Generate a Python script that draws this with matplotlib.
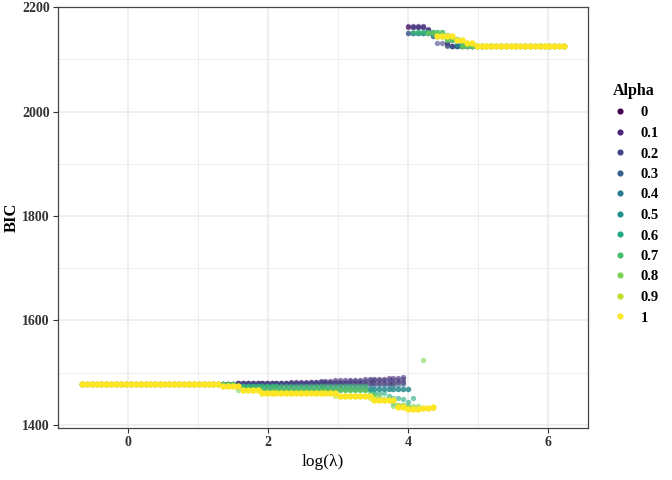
import matplotlib
matplotlib.use("Agg")
import matplotlib.pyplot as plt
from matplotlib.lines import Line2D
from matplotlib.ticker import MultipleLocator

plt.rcParams["font.family"] = ["Liberation Serif", "DejaVu Serif"]

# shared log(lambda) grid (100 values)
LOG_LAMBDA = [
    -0.66, -0.59, -0.52, -0.45, -0.38, -0.31, -0.24, -0.17, -0.10, -0.03,
    0.04, 0.11, 0.18, 0.25, 0.31, 0.38, 0.45, 0.52, 0.59, 0.66,
    0.73, 0.80, 0.87, 0.94, 1.01, 1.08, 1.15, 1.22, 1.29, 1.36,
    1.43, 1.50, 1.57, 1.64, 1.71, 1.78, 1.85, 1.92, 1.99, 2.05,
    2.12, 2.19, 2.26, 2.33, 2.40, 2.47, 2.54, 2.61, 2.68, 2.75,
    2.82, 2.89, 2.96, 3.03, 3.10, 3.17, 3.24, 3.31, 3.38, 3.45,
    3.52, 3.59, 3.66, 3.73, 3.79, 3.86, 3.93, 4.00, 4.07, 4.14,
    4.21, 4.28, 4.35, 4.42, 4.49, 4.56, 4.63, 4.70, 4.77, 4.84,
    4.91, 4.98, 5.05, 5.12, 5.19, 5.26, 5.33, 5.40, 5.47, 5.53,
    5.60, 5.67, 5.74, 5.81, 5.88, 5.95, 6.02, 6.09, 6.16, 6.23,
]

ALPHAS = ["0", "0.1", "0.2", "0.3", "0.4", "0.5", "0.6", "0.7", "0.8", "0.9", "1"]
COLORS = ["#440154", "#482576", "#414487", "#35608D", "#2A788E", "#21908C",
          "#22A884", "#43BF71", "#7AD151", "#BBDF27", "#FDE725"]

# BIC per alpha (run lengths along the lambda grid)
BIC_A00 = ([1479] * 32 + [1481] * 33 + [1482, 1483] + [2163] * 4
           + [2157, 2151, 2144, 2144, 2128] + [2126] * 24)
BIC_A01 = ([1479] * 32 + [1481] * 9
           + [1481, 1481, 1482, 1482, 1482, 1483, 1483, 1483, 1484, 1484,
              1484, 1485, 1485, 1485, 1486, 1486, 1486, 1487, 1487, 1487,
              1488, 1488, 1489, 1489, 1490, 1492]
           + [2164] * 4 + [2158, 2151, 2144, 2144, 2131] + [2126] * 24)
BIC_A02 = ([1479] * 32 + [1480] * 9
           + [1480, 1480, 1481, 1481, 1481, 1481, 1482, 1482, 1482, 1482,
              1483, 1483, 1483, 1483, 1484, 1484, 1484, 1484, 1485, 1485,
              1485, 1485, 1486, 1486, 1486, 1487]
           + [2151] + [2163] * 3 + [2157, 2151] + [2131] * 3 + [2126] * 24)
BIC_A03 = ([1479] * 32 + [1476] * 34 + [1479] + [2151] * 5 + [2144] * 3
           + [2126] * 25)
BIC_A04 = ([1479] * 32 + [1474] * 4 + [1469] * 32 + [2151] * 4 + [2144] * 4
           + [2137] + [2126] * 23)
BIC_A05 = ([1479] * 32 + [1475] * 4 + [1469] * 32 + [2151] * 5 + [2147] * 3
           + [2137] + [2130] * 2 + [2126] * 21)
BIC_A06 = ([1479] * 32 + [1474] * 9 + [1467] * 19 + [1462] * 3
           + [1456, 1452, 1452, 1449, 1443, 1452] + [2153] * 6 + [2140] * 3
           + [2127] * 3 + [2126] * 19)
BIC_A07 = ([1479] * 32 + [1474] * 27 + [1460] * 2 + [1450] * 3
           + [1441, 1438, 1438, 1435] + [2153] * 7 + [2140] * 3 + [2126] * 22)
BIC_A08 = ([1479] * 32 + [1467] * 27 + [1456] * 3 + [1448] * 2 + [1437] * 6
           + [1525] + [2150] * 4 + [2138] * 3 + [2126] * 22)
BIC_A09 = ([1479] * 29 + [1474] * 4 + [1467] * 4 + [1461] * 15 + [1456] * 7
           + [1452] * 2 + [1447] * 4 + [1438] * 2 + [1433] * 6 + [2144] * 4
           + [2138] * 2 + [2132] * 2 + [2126] * 19)
BIC_A10 = ([1479] * 29 + [1474] * 4 + [1467] * 4 + [1461] * 16 + [1456] * 7
           + [1447] * 5 + [1435] * 2 + [1431, 1430, 1431, 1432, 1433, 1434]
           + [2144] * 4 + [2138] * 2 + [2132] * 2 + [2126] * 19)

BIC = [BIC_A00, BIC_A01, BIC_A02, BIC_A03, BIC_A04, BIC_A05,
       BIC_A06, BIC_A07, BIC_A08, BIC_A09, BIC_A10]


def main():
    fig = plt.figure(figsize=(6.72, 4.8), dpi=100)
    ax = fig.add_axes([58 / 672, 1 - 428 / 480, 530 / 672, 421 / 480])

    for lab, col, y in zip(ALPHAS, COLORS, BIC):
        last = lab == "1"
        ax.scatter(LOG_LAMBDA, y, s=21 if last else 15, color=col,
                   alpha=1.0 if last else 0.6, linewidths=0, zorder=3)

    ax.set_xlim(-1.0, 6.57)
    ax.set_ylim(1394, 2200.5)
    ax.xaxis.set_major_locator(MultipleLocator(2))
    ax.xaxis.set_minor_locator(MultipleLocator(1))
    ax.yaxis.set_major_locator(MultipleLocator(200))
    ax.yaxis.set_minor_locator(MultipleLocator(100))
    ax.grid(True, which="major", color="#EBEBEB", lw=1.1, zorder=0)
    ax.grid(True, which="minor", color="#EBEBEB", lw=0.55, zorder=0)
    ax.set_axisbelow(True)
    for sp in ax.spines.values():
        sp.set_color("#444444")
        sp.set_linewidth(0.9)
    ax.tick_params(which="major", length=3.5, width=0.8, color="#333333",
                   labelsize=10, labelcolor="#333333", pad=2.5)
    ax.tick_params(which="minor", length=0)
    for t in ax.get_xticklabels() + ax.get_yticklabels():
        t.set_fontweight("bold")

    ax.set_xlabel("log(\u03bb)", fontsize=12.5, labelpad=3)
    ax.set_ylabel("BIC", fontsize=12, fontweight="bold", labelpad=1.5)

    handles = [Line2D([], [], ls="", marker="o", ms=3.4, color=c) for c in COLORS]
    leg = fig.legend(handles, ALPHAS, loc="upper left",
                     bbox_to_anchor=(613 / 672, 1 - 83 / 480), frameon=False,
                     title="Alpha", handlelength=1.0, handletextpad=0.9,
                     labelspacing=0.5, borderaxespad=0, borderpad=0,
                     prop={"weight": "bold", "size": 10.5},
                     title_fontproperties={"weight": "bold", "size": 11.5})
    leg._legend_box.align = "left"

    fig.savefig("out.png", dpi=100)


if __name__ == "__main__":
    main()
